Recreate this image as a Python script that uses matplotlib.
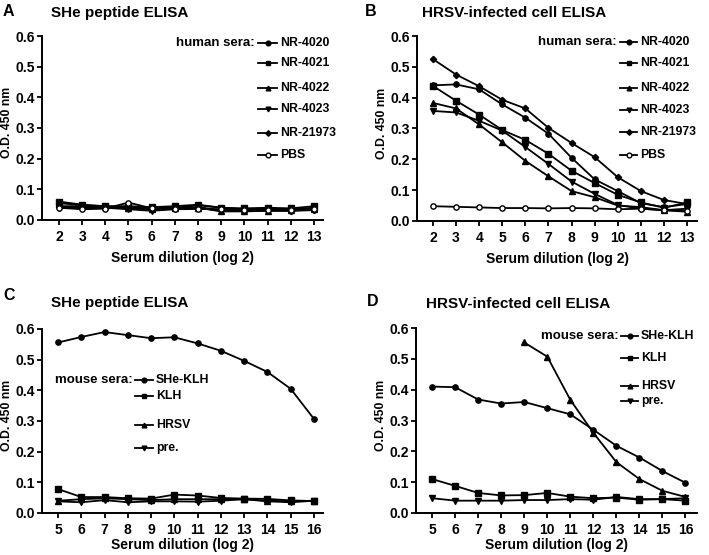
"""Four-panel ELISA titration curves (O.D. 450 nm vs serum dilution)."""
import matplotlib
matplotlib.use("Agg")
import matplotlib.pyplot as plt
import numpy as np
from matplotlib.lines import Line2D

plt.rcParams["font.family"] = ["Liberation Sans", "DejaVu Sans"]
plt.rcParams["font.weight"] = "bold"

# ---- data -----------------------------------------------------------------
human_dil = [2, 3, 4, 5, 6, 7, 8, 9, 10, 11, 12, 13]
mouse_dil = [5, 6, 7, 8, 9, 10, 11, 12, 13, 14, 15, 16]

human_names = ["NR-4020", "NR-4021", "NR-4022", "NR-4023", "NR-21973", "PBS"]
mouse_names = ["SHe-KLH", "KLH", "HRSV", "pre."]

# panel A: SHe peptide ELISA, human sera
a_nr4020 = [0.045, 0.045, 0.042, 0.040, 0.040, 0.040, 0.048, 0.040, 0.035, 0.037, 0.035, 0.040]
a_nr4021 = [0.060, 0.050, 0.045, 0.045, 0.042, 0.045, 0.050, 0.040, 0.038, 0.040, 0.038, 0.045]
a_nr4022 = [0.055, 0.048, 0.045, 0.040, 0.035, 0.040, 0.040, 0.030, 0.030, 0.030, 0.032, 0.035]
a_nr4023 = [0.040, 0.040, 0.040, 0.035, 0.030, 0.035, 0.040, 0.028, 0.028, 0.030, 0.030, 0.035]
a_nr21973 = [0.042, 0.038, 0.040, 0.038, 0.035, 0.038, 0.042, 0.032, 0.030, 0.032, 0.030, 0.032]
a_pbs = [0.040, 0.035, 0.037, 0.057, 0.038, 0.035, 0.036, 0.035, 0.033, 0.033, 0.033, 0.035]

# panel B: HRSV-infected cell ELISA, human sera
b_nr4020 = [0.440, 0.443, 0.427, 0.378, 0.335, 0.283, 0.205, 0.135, 0.097, 0.058, 0.045, 0.055]
b_nr4021 = [0.438, 0.390, 0.345, 0.295, 0.263, 0.218, 0.163, 0.123, 0.085, 0.060, 0.043, 0.060]
b_nr4022 = [0.383, 0.365, 0.313, 0.255, 0.195, 0.145, 0.097, 0.077, 0.050, 0.045, 0.035, 0.030]
b_nr4023 = [0.357, 0.352, 0.325, 0.293, 0.240, 0.185, 0.128, 0.088, 0.052, 0.040, 0.035, 0.040]
b_nr21973 = [0.525, 0.475, 0.437, 0.393, 0.365, 0.302, 0.253, 0.207, 0.142, 0.097, 0.068, 0.055]
b_pbs = [0.048, 0.046, 0.044, 0.042, 0.042, 0.041, 0.042, 0.041, 0.038, 0.040, 0.035, 0.033]

# panel C: SHe peptide ELISA, mouse sera
c_she_klh = [0.556, 0.574, 0.590, 0.580, 0.570, 0.573, 0.553, 0.529, 0.496, 0.460, 0.405, 0.307]
c_klh = [0.078, 0.052, 0.052, 0.048, 0.047, 0.060, 0.057, 0.049, 0.047, 0.046, 0.041, 0.039]
c_hrsv = [0.040, 0.045, 0.048, 0.045, 0.042, 0.045, 0.045, 0.045, 0.045, 0.040, 0.038, 0.040]
c_pre = [0.038, 0.035, 0.042, 0.035, 0.038, 0.038, 0.037, 0.040, 0.045, 0.038, 0.035, 0.040]

# panel D: HRSV-infected cell ELISA, mouse sera (HRSV not measured below 2^9)
d_she_klh = [0.410, 0.408, 0.368, 0.355, 0.360, 0.340, 0.320, 0.270, 0.218, 0.180, 0.136, 0.098]
d_klh = [0.110, 0.088, 0.065, 0.057, 0.058, 0.065, 0.053, 0.048, 0.050, 0.043, 0.045, 0.040]
d_hrsv = [np.nan, np.nan, np.nan, np.nan, 0.553, 0.507, 0.367, 0.260, 0.165, 0.110, 0.072, 0.052]
d_pre = [0.048, 0.040, 0.040, 0.040, 0.042, 0.042, 0.045, 0.043, 0.052, 0.045, 0.045, 0.048]

human_markers = ["o", "s", "^", "v", "D", "o"]
mouse_markers = ["o", "s", "^", "v"]

W, H = 709, 555


def fx(x):
    return x / W


def fy(y):
    return 1 - y / H


def style_axes(ax, xticks, xlim, xlabelpad):
    for side in ("top", "right"):
        ax.spines[side].set_visible(False)
    for side in ("left", "bottom"):
        ax.spines[side].set_linewidth(1.4)
    ax.set_xlim(*xlim)
    ax.set_ylim(0, 0.6)
    ax.set_xticks(xticks)
    ax.set_yticks(np.arange(0, 0.61, 0.1))
    ax.set_yticklabels([f"{v:.1f}" for v in np.arange(0, 0.61, 0.1)])
    ax.tick_params(direction="out", length=3.5, width=1.3, labelsize=10)
    ax.tick_params(axis="x", pad=4)
    ax.tick_params(axis="y", pad=1.5)
    for lab in ax.get_xticklabels() + ax.get_yticklabels():
        lab.set_fontweight("bold")
    ax.set_xlabel("Serum dilution (log 2)", fontsize=10, fontweight="bold",
                  labelpad=xlabelpad)
    ax.set_ylabel("O.D. 450 nm", fontsize=8.8, fontweight="bold")
    ax.yaxis.set_label_coords(-0.103, 0.53)


def draw_series(ax, x, series, markers, open_last=False):
    for i, (ys, m) in enumerate(zip(series, markers)):
        face = "white" if (open_last and i == len(series) - 1) else "black"
        ms = 3.8 if m != "D" else 3.2
        ax.plot(x, ys, color="black", lw=1.3, marker=m, ms=ms,
                mfc=face, mec="black", mew=1.0, clip_on=False, zorder=3)


def draw_key(fig, head, head_x, x0, x1, tx, ys, names, markers, open_last=False):
    fig.text(fx(head_x), fy(ys[0]), head, ha="right", va="center",
             fontsize=9.5, fontweight="bold")
    for i, (y, name, m) in enumerate(zip(ys, names, markers)):
        face = "white" if (open_last and i == len(names) - 1) else "black"
        ms = 3.4 if m != "D" else 2.8
        fig.add_artist(Line2D([fx(x0), fx(x1)], [fy(y), fy(y)], color="black", lw=1.3))
        fig.add_artist(Line2D([fx((x0 + x1) / 2)], [fy(y)], marker=m, ms=ms,
                              mfc=face, mec="black", mew=1.0, color="black"))
        fig.text(fx(tx), fy(y), name, ha="left", va="center",
                 fontsize=8.8, fontweight="bold")


fig = plt.figure(figsize=(W / 100, H / 100), dpi=100)

# axes rectangles from pixel positions (left, top, right, bottom)
boxes = {
    "A": (42, 36, 323, 220),
    "B": (417, 36, 697, 221),
    "C": (42, 329, 323, 513),
    "D": (416, 328, 697, 513),
}
axes = {}
for key, (l, t, r, b) in boxes.items():
    axes[key] = fig.add_axes([fx(l), fy(b), (r - l) / W, (b - t) / H])

axA, axB, axC, axD = axes["A"], axes["B"], axes["C"], axes["D"]

style_axes(axA, human_dil, (1.27, 13.39), 5)
style_axes(axB, human_dil, (1.31, 13.43), 5)
style_axes(axC, mouse_dil, (4.31, 16.39), 0.5)
style_axes(axD, mouse_dil, (4.30, 16.50), 0.5)

draw_series(axA, human_dil, [a_nr4020, a_nr4021, a_nr4022, a_nr4023, a_nr21973, a_pbs],
            human_markers, open_last=True)
draw_series(axB, human_dil, [b_nr4020, b_nr4021, b_nr4022, b_nr4023, b_nr21973, b_pbs],
            human_markers, open_last=True)
draw_series(axC, mouse_dil, [c_she_klh, c_klh, c_hrsv, c_pre], mouse_markers)
draw_series(axD, mouse_dil, [d_she_klh, d_klh, d_hrsv, d_pre], mouse_markers)

# keys
draw_key(fig, "human sera:", 255, 258, 277, 280, [43, 63, 88, 109, 133, 155],
         human_names, human_markers, open_last=True)
draw_key(fig, "human sera:", 617, 620, 637, 640, [42, 63, 88, 110, 132, 155],
         human_names, human_markers, open_last=True)
draw_key(fig, "mouse sera:", 133, 135, 153, 156, [380, 396, 425, 448],
         mouse_names, mouse_markers)
draw_key(fig, "mouse sera:", 619, 621, 638, 641, [336, 358, 386, 401],
         mouse_names, mouse_markers)

# panel letters and titles
fig.text(fx(3), fy(12), "A", fontsize=11.5, fontweight="bold", va="center")
fig.text(fx(51), fy(13), "SHe peptide ELISA", fontsize=11, fontweight="bold", va="center")
fig.text(fx(365), fy(12), "B", fontsize=11.5, fontweight="bold", va="center")
fig.text(fx(422), fy(13), "HRSV-infected cell ELISA", fontsize=11, fontweight="bold", va="center")
fig.text(fx(3), fy(295), "C", fontsize=11.5, fontweight="bold", va="center")
fig.text(fx(51), fy(303), "SHe peptide ELISA", fontsize=11, fontweight="bold", va="center")
fig.text(fx(367), fy(302), "D", fontsize=11.5, fontweight="bold", va="center")
fig.text(fx(426), fy(304), "HRSV-infected cell ELISA", fontsize=11, fontweight="bold", va="center")

fig.savefig("out.png", dpi=100)
